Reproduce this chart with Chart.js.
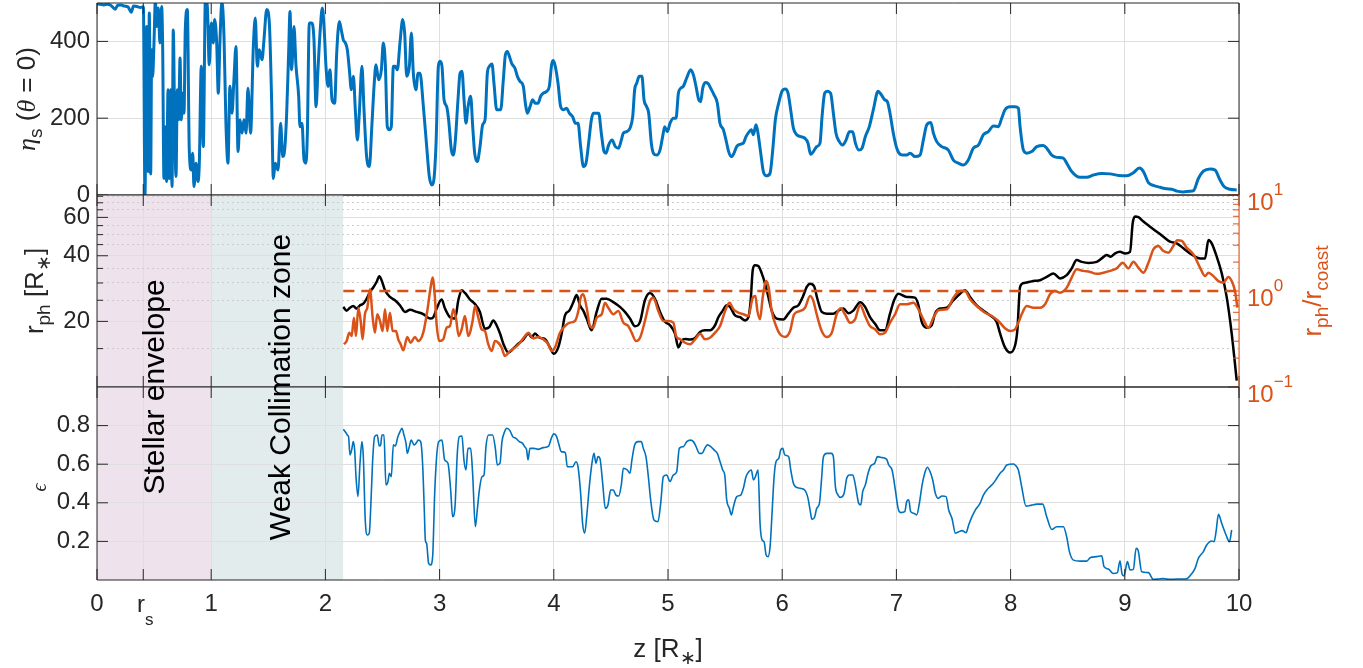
<!DOCTYPE html>
<html>
<head>
<meta charset="utf-8">
<script src="https://cdn.jsdelivr.net/npm/chart.js@4.4.1/dist/chart.umd.min.js"></script>
<style>
  html, body { margin: 0; padding: 0; background: #fff; }
  #wrap { position: relative; width: 1363px; height: 668px; }
  #wrap canvas { position: absolute; left: 0; top: 0; }
</style>
</head>
<body>
<div id="wrap">
  <canvas id="eta_chart" width="1363" height="668"></canvas>
  <canvas id="rph_chart" width="1363" height="668"></canvas>
  <canvas id="eps_chart" width="1363" height="668"></canvas>
</div>
<script>
// shock position r_s and the axis ticks
var RS = 0.405;
var X_TICKS = [0, RS, 1, 2, 3, 4, 5, 6, 7, 8, 9, 10];
var ETA_TICKS = [0, 200, 400];
var RPH_TICKS = [20, 40, 60];
var RPH_MINOR = [15, 25, 30, 35, 45, 50, 55, 65, 70, 75];
var RATIO_TICKS = [0.1, 1, 10];
var RATIO_MINOR = [0.2, 0.3, 0.4, 0.5, 0.6, 0.7, 0.8, 0.9, 2, 3, 4, 5, 6, 7, 8, 9];
var EPS_TICKS = [0.2, 0.4, 0.6, 0.8];

// shaded zones along z
var zones = [
  { name: 'Stellar envelope', from: 0, to: 1, textAt: 0.59, color: '#eee3ec' },
  { name: 'Weak Collimation zone', from: 1, to: 2.155, textAt: 1.69, color: '#e3ecec' }
];

// r_ph / r_coast = 1 reference level
var COAST_LEVEL = 1;
var COAST_FROM = 2.157;

// eta_s on the axis, [z, eta]
var etaS = [
  [0,498],[0.03,497],[0.06,495],[0.09,497],[0.12,494],[0.16,484],[0.18,494],[0.21,495],[0.24,492],[0.27,490],
  [0.30,476],[0.32,492],[0.35,491],[0.38,488],[0.406,490],[0.420,0],[0.435,439],[0.449,61],[0.458,474],[0.470,55],
  [0.479,378],[0.487,308],[0.499,396],[0.511,505],[0.522,439],[0.537,487],[0.551,396],[0.566,491],[0.575,387],[0.586,43],
  [0.598,178],[0.610,35],[0.622,274],[0.633,43],[0.645,274],[0.657,22],[0.668,430],[0.680,187],[0.692,48],[0.703,274],
  [0.715,196],[0.727,357],[0.738,196],[0.750,265],[0.762,213],[0.773,430],[0.791,483],[0.808,117],[0.826,65],[0.838,109],
  [0.849,22],[0.867,83],[0.884,35],[0.896,83],[0.913,335],[0.931,126],[0.949,510],[0.966,492],[0.983,339],[1.001,448],
  [1.019,396],[1.030,457],[1.048,396],[1.062,265],[1.077,404],[1.094,505],[1.112,413],[1.129,187],[1.147,83],[1.164,283],
  [1.182,213],[1.199,300],[1.217,387],[1.235,113],[1.252,196],[1.270,161],[1.287,196],[1.305,161],[1.322,278],[1.345,161],
  [1.369,387],[1.386,461],[1.404,335],[1.421,378],[1.445,352],[1.462,404],[1.486,483],[1.509,448],[1.529,248],[1.544,43],
  [1.561,83],[1.585,65],[1.608,187],[1.626,100],[1.643,117],[1.661,213],[1.678,370],[1.690,478],[1.704,326],[1.725,439],
  [1.742,339],[1.766,257],[1.777,178],[1.795,187],[1.813,91],[1.830,83],[1.842,161],[1.859,448],[1.880,448],[1.900,404],
  [1.918,230],[1.935,326],[1.953,422],[1.973,487],[1.991,422],[2.005,335],[2.023,283],[2.040,326],[2.058,248],[2.081,239],
  [2.099,370],[2.122,452],[2.139,430],[2.157,404],[2.175,396],[2.192,378],[2.210,326],[2.227,274],[2.245,309],[2.262,222],
  [2.280,143],[2.297,213],[2.320,335],[2.338,222],[2.361,100],[2.385,74],[2.408,187],[2.426,283],[2.443,339],[2.466,300],
  [2.490,326],[2.507,396],[2.525,339],[2.542,178],[2.560,170],[2.577,178],[2.595,335],[2.612,335],[2.630,326],[2.653,396],
  [2.677,457],[2.694,422],[2.712,309],[2.735,335],[2.753,422],[2.770,317],[2.793,274],[2.811,317],[2.828,317],[2.858,230],
  [2.887,126],[2.910,48],[2.933,26],[2.950,40],[2.969,135],[2.989,335],[3.004,348],[3.021,335],[3.039,248],[3.062,230],
  [3.079,196],[3.103,117],[3.120,104],[3.138,143],[3.161,248],[3.179,317],[3.196,322],[3.214,248],[3.231,187],[3.249,230],
  [3.272,257],[3.290,178],[3.307,109],[3.330,87],[3.354,126],[3.377,183],[3.398,196],[3.418,317],[3.436,335],[3.459,341],
  [3.476,291],[3.500,222],[3.535,222],[3.558,300],[3.576,365],[3.593,374],[3.611,361],[3.631,343],[3.660,330],[3.681,309],
  [3.704,296],[3.733,283],[3.751,239],[3.768,213],[3.792,230],[3.815,248],[3.838,239],[3.862,239],[3.885,257],[3.908,265],
  [3.938,270],[3.961,283],[3.981,339],[3.996,350],[4.013,335],[4.037,291],[4.060,230],[4.084,222],[4.113,226],[4.136,213],
  [4.165,204],[4.189,187],[4.212,187],[4.235,126],[4.259,74],[4.282,83],[4.305,135],[4.329,196],[4.346,213],[4.393,213],
  [4.416,161],[4.440,113],[4.457,109],[4.480,130],[4.510,143],[4.539,126],[4.568,122],[4.591,143],[4.609,161],[4.638,165],
  [4.667,174],[4.691,204],[4.708,274],[4.726,291],[4.749,309],[4.772,309],[4.790,248],[4.813,230],[4.831,213],[4.854,135],
  [4.872,109],[4.901,104],[4.930,117],[4.953,152],[4.971,178],[4.994,165],[5.018,187],[5.047,200],[5.070,200],[5.091,265],
  [5.111,278],[5.134,283],[5.163,304],[5.199,326],[5.222,313],[5.245,283],[5.269,248],[5.286,243],[5.304,278],[5.327,293],
  [5.350,291],[5.374,278],[5.403,261],[5.432,239],[5.455,187],[5.485,170],[5.508,143],[5.531,113],[5.555,100],[5.578,109],
  [5.601,126],[5.631,132],[5.660,135],[5.683,152],[5.712,165],[5.730,170],[5.747,157],[5.771,183],[5.788,161],[5.812,109],
  [5.835,61],[5.864,50],[5.893,56],[5.917,117],[5.940,196],[5.969,239],[5.998,270],[6.027,276],[6.051,265],[6.074,222],
  [6.098,174],[6.127,157],[6.162,152],[6.197,148],[6.226,135],[6.249,106],[6.273,113],[6.302,126],[6.331,135],[6.349,204],
  [6.372,265],[6.395,270],[6.424,265],[6.448,213],[6.471,161],[6.500,139],[6.530,130],[6.559,143],[6.588,165],[6.617,165],
  [6.641,135],[6.670,117],[6.699,122],[6.728,152],[6.763,178],[6.798,222],[6.839,270],[6.868,261],[6.897,248],[6.921,243],
  [6.944,213],[6.973,161],[7.003,122],[7.032,106],[7.061,104],[7.090,104],[7.120,109],[7.163,100],[7.207,104],[7.236,143],
  [7.266,183],[7.301,189],[7.324,161],[7.353,139],[7.397,126],[7.455,117],[7.499,91],[7.543,83],[7.587,78],[7.630,91],
  [7.674,122],[7.718,130],[7.762,157],[7.805,165],[7.849,180],[7.893,178],[7.922,200],[7.951,222],[7.995,230],[8.039,230],
  [8.068,226],[8.083,178],[8.112,117],[8.141,109],[8.185,113],[8.229,126],[8.287,129],[8.316,122],[8.360,104],[8.404,98],
  [8.462,96],[8.491,83],[8.535,61],[8.608,46],[8.667,46],[8.725,52],[8.798,56],[8.871,55],[8.944,51],[9.017,50],
  [9.075,58],[9.128,70],[9.163,61],[9.207,32],[9.250,25],[9.309,20],[9.367,16],[9.411,15],[9.455,10],[9.513,8],
  [9.571,10],[9.601,11],[9.644,43],[9.688,62],[9.747,68],[9.790,65],[9.834,39],[9.869,22],[9.922,15],[9.980,13]
];

// photospheric radius r_ph in R_*, [z, r_ph]
var rPh = [
  [2.157,23.3],[2.186,22.4],[2.215,23.1],[2.244,23.5],[2.274,22.9],[2.303,23.7],[2.332,24.1],[2.361,25.4],[2.390,27.3],[2.419,28.6],
  [2.449,30.4],[2.472,32.2],[2.492,30.9],[2.522,27.8],[2.565,25.9],[2.609,25.0],[2.653,23.7],[2.697,22.1],[2.741,22.6],[2.799,22.1],
  [2.857,21.6],[2.916,20.6],[2.945,20.9],[2.974,22.9],[3.018,25.2],[3.047,22.9],[3.091,20.9],[3.135,20.6],[3.164,25.0],[3.193,27.8],
  [3.222,27.0],[3.266,25.2],[3.310,24.0],[3.353,22.1],[3.397,18.5],[3.435,18.8],[3.470,20.2],[3.499,19.2],[3.529,17.6],[3.558,15.8],
  [3.602,14.4],[3.645,15.0],[3.689,15.8],[3.733,16.5],[3.777,17.6],[3.806,16.9],[3.835,17.6],[3.879,16.8],[3.923,16.6],[3.966,15.2],
  [4.001,14.2],[4.039,15.2],[4.069,17.6],[4.098,21.3],[4.136,22.4],[4.171,24.5],[4.200,26.4],[4.229,23.7],[4.258,22.4],[4.288,20.6],
  [4.331,18.2],[4.375,22.1],[4.419,25.4],[4.463,25.4],[4.521,24.5],[4.579,23.3],[4.623,22.1],[4.667,20.6],[4.711,19.0],[4.755,19.9],
  [4.798,25.0],[4.842,27.0],[4.886,25.4],[4.930,22.1],[4.974,19.9],[5.017,19.2],[5.061,17.6],[5.091,15.2],[5.120,16.3],[5.149,16.6],
  [5.193,16.5],[5.237,16.8],[5.281,17.9],[5.324,18.2],[5.368,18.2],[5.412,19.2],[5.441,20.9],[5.479,22.4],[5.514,23.7],[5.543,23.3],
  [5.587,21.3],[5.631,20.9],[5.675,20.2],[5.704,20.9],[5.724,25.0],[5.742,34.4],[5.762,36.2],[5.791,35.9],[5.821,33.2],[5.850,29.8],
  [5.879,25.9],[5.908,22.4],[5.952,20.6],[6.010,20.4],[6.054,21.7],[6.098,23.1],[6.142,23.7],[6.180,25.9],[6.215,28.8],[6.244,29.8],
  [6.279,29.0],[6.308,25.4],[6.346,22.1],[6.390,21.7],[6.448,21.7],[6.492,22.4],[6.536,22.9],[6.580,21.8],[6.623,22.4],[6.682,24.5],
  [6.726,23.3],[6.769,20.9],[6.813,19.5],[6.857,18.2],[6.901,18.2],[6.944,21.7],[6.980,25.0],[7.017,26.8],[7.090,25.9],[7.163,25.7],
  [7.193,23.7],[7.222,19.9],[7.266,18.7],[7.309,19.2],[7.338,21.7],[7.382,22.9],[7.441,23.1],[7.499,25.0],[7.557,26.8],[7.601,27.8],
  [7.645,25.9],[7.703,23.7],[7.762,22.4],[7.820,21.3],[7.878,19.9],[7.908,17.6],[7.951,15.2],[7.995,14.4],[8.039,15.5],[8.059,18.2],
  [8.083,28.8],[8.118,30.0],[8.170,30.4],[8.214,30.7],[8.258,30.9],[8.316,32.0],[8.375,33.2],[8.433,31.5],[8.491,32.6],[8.535,35.0],
  [8.579,38.2],[8.623,37.5],[8.681,37.1],[8.754,37.5],[8.798,38.9],[8.842,40.3],[8.877,39.6],[8.915,41.0],[8.958,41.7],[9.002,41.0],
  [9.046,41.7],[9.069,56.4],[9.090,60.5],[9.119,60.1],[9.163,57.4],[9.221,54.4],[9.280,51.6],[9.338,48.9],[9.396,46.4],[9.455,45.6],
  [9.513,43.3],[9.571,41.0],[9.615,39.6],[9.659,38.9],[9.703,38.9],[9.732,47.3],[9.761,45.6],[9.805,39.6],[9.849,33.2],[9.892,25.9],
  [9.936,17.6],[9.980,10.7]
];

// r_ph / r_coast, [z, ratio]
var rRatio = [
  [2.163,0.279],[2.186,0.301],[2.209,0.368],[2.230,0.340],[2.250,0.527],[2.268,0.340],[2.288,0.670],[2.309,0.487],[2.326,0.314],[2.346,0.572],
  [2.367,0.670],[2.390,1.04],[2.414,0.527],[2.434,0.368],[2.454,0.572],[2.478,0.487],[2.501,0.383],[2.522,0.645],[2.542,0.383],[2.565,0.594],
  [2.589,0.383],[2.618,0.383],[2.638,0.314],[2.659,0.279],[2.682,0.241],[2.717,0.332],[2.746,0.289],[2.784,0.332],[2.813,0.301],[2.857,0.368],
  [2.892,0.619],[2.921,1.08],[2.939,1.38],[2.957,0.924],[2.974,0.450],[2.997,0.301],[3.032,0.314],[3.062,0.415],[3.091,0.432],[3.120,0.645],
  [3.143,0.527],[3.167,0.340],[3.193,0.399],[3.222,0.549],[3.251,0.340],[3.289,0.487],[3.310,0.698],[3.339,0.527],[3.368,0.399],[3.397,0.383],
  [3.426,0.279],[3.456,0.237],[3.485,0.301],[3.514,0.289],[3.543,0.257],[3.572,0.210],[3.616,0.237],[3.660,0.257],[3.704,0.289],[3.748,0.340],
  [3.777,0.368],[3.821,0.321],[3.864,0.332],[3.908,0.314],[3.952,0.279],[3.981,0.237],[4.010,0.257],[4.054,0.368],[4.098,0.432],[4.142,0.468],
  [4.185,0.487],[4.215,0.619],[4.235,0.852],[4.258,0.924],[4.288,0.670],[4.317,0.432],[4.346,0.415],[4.375,0.527],[4.419,0.572],[4.448,0.755],
  [4.477,0.670],[4.521,0.572],[4.565,0.619],[4.609,0.468],[4.652,0.432],[4.682,0.368],[4.720,0.301],[4.755,0.326],[4.798,0.487],[4.842,0.787],
  [4.871,0.852],[4.915,0.619],[4.959,0.487],[5.003,0.487],[5.047,0.468],[5.071,0.340],[5.106,0.314],[5.149,0.289],[5.193,0.279],[5.237,0.314],
  [5.281,0.359],[5.324,0.314],[5.368,0.326],[5.412,0.368],[5.456,0.432],[5.500,0.619],[5.538,0.755],[5.573,0.645],[5.616,0.594],[5.660,0.572],
  [5.704,0.549],[5.742,0.852],[5.765,0.887],[5.783,0.619],[5.806,0.507],[5.829,0.852],[5.859,1.27],[5.882,1.08],[5.908,0.619],[5.946,0.432],
  [5.981,0.354],[6.025,0.332],[6.069,0.383],[6.104,0.572],[6.156,0.619],[6.200,0.670],[6.244,0.887],[6.273,0.787],[6.302,0.572],[6.346,0.383],
  [6.390,0.332],[6.434,0.368],[6.477,0.572],[6.512,0.661],[6.550,0.572],[6.594,0.468],[6.638,0.507],[6.682,0.715],[6.726,0.549],[6.769,0.432],
  [6.813,0.399],[6.857,0.354],[6.901,0.368],[6.944,0.468],[6.988,0.572],[7.032,0.727],[7.090,0.727],[7.149,0.755],[7.193,0.645],[7.236,0.507],
  [7.280,0.415],[7.324,0.527],[7.368,0.630],[7.441,0.645],[7.499,0.852],[7.557,1.0],[7.601,1.0],[7.645,0.820],[7.703,0.698],[7.776,0.594],
  [7.835,0.549],[7.893,0.487],[7.951,0.409],[7.995,0.383],[8.039,0.399],[8.068,0.468],[8.097,0.572],[8.141,0.698],[8.200,0.670],[8.258,0.670],
  [8.302,0.727],[8.345,0.924],[8.389,1.0],[8.433,0.960],[8.491,1.08],[8.535,1.38],[8.579,1.68],[8.637,1.62],[8.696,1.58],[8.754,1.51],
  [8.813,1.55],[8.871,1.62],[8.929,1.72],[8.982,1.97],[9.031,1.72],[9.075,2.02],[9.119,1.75],[9.163,1.55],[9.207,1.97],[9.250,2.72],
  [9.294,2.94],[9.338,2.61],[9.382,2.51],[9.425,2.94],[9.460,3.37],[9.499,3.32],[9.542,2.83],[9.601,2.41],[9.659,1.75],[9.703,1.43],
  [9.732,1.55],[9.776,1.43],[9.819,1.27],[9.863,1.22],[9.907,1.40],[9.936,1.27],[9.965,1.0],[9.986,0.670]
];

// epsilon, [z, eps]
var epsS = [
  [2.157,0.781],[2.180,0.763],[2.192,0.751],[2.203,0.743],[2.215,0.648],[2.230,0.674],[2.244,0.717],[2.256,0.674],[2.268,0.535],[2.285,0.432],
  [2.303,0.605],[2.320,0.717],[2.332,0.639],[2.349,0.311],[2.367,0.233],[2.384,0.242],[2.402,0.449],[2.414,0.622],[2.431,0.743],[2.454,0.751],
  [2.472,0.694],[2.484,0.700],[2.495,0.751],[2.513,0.751],[2.530,0.492],[2.548,0.510],[2.560,0.553],[2.577,0.535],[2.595,0.700],[2.612,0.694],
  [2.635,0.743],[2.653,0.768],[2.670,0.786],[2.688,0.751],[2.706,0.708],[2.717,0.656],[2.735,0.691],[2.752,0.725],[2.776,0.700],[2.793,0.708],
  [2.814,0.725],[2.834,0.717],[2.851,0.605],[2.866,0.363],[2.875,0.207],[2.886,0.190],[2.904,0.086],[2.921,0.078],[2.939,0.121],[2.957,0.449],
  [2.974,0.639],[2.992,0.717],[3.021,0.725],[3.044,0.622],[3.073,0.605],[3.097,0.466],[3.114,0.328],[3.135,0.380],[3.155,0.656],[3.173,0.743],
  [3.196,0.746],[3.213,0.622],[3.231,0.570],[3.248,0.682],[3.272,0.682],[3.289,0.553],[3.313,0.276],[3.330,0.363],[3.348,0.466],[3.371,0.535],
  [3.389,0.544],[3.406,0.691],[3.429,0.751],[3.464,0.751],[3.488,0.682],[3.505,0.596],[3.529,0.605],[3.546,0.717],[3.569,0.768],[3.587,0.786],
  [3.616,0.774],[3.640,0.743],[3.669,0.734],[3.698,0.717],[3.727,0.708],[3.745,0.691],[3.762,0.674],[3.774,0.622],[3.791,0.682],[3.826,0.682],
  [3.861,0.677],[3.908,0.686],[3.955,0.694],[3.978,0.734],[4.001,0.757],[4.025,0.743],[4.042,0.708],[4.066,0.665],[4.101,0.660],[4.118,0.587],
  [4.165,0.587],[4.194,0.613],[4.212,0.587],[4.235,0.449],[4.252,0.294],[4.270,0.242],[4.288,0.328],[4.311,0.484],[4.334,0.605],[4.352,0.656],
  [4.369,0.605],[4.387,0.639],[4.404,0.630],[4.428,0.501],[4.451,0.371],[4.474,0.389],[4.498,0.466],[4.521,0.466],[4.544,0.440],[4.568,0.435],
  [4.591,0.492],[4.609,0.579],[4.644,0.570],[4.667,0.553],[4.684,0.622],[4.708,0.700],[4.737,0.717],[4.766,0.717],[4.784,0.682],[4.807,0.639],
  [4.828,0.535],[4.848,0.415],[4.877,0.311],[4.912,0.302],[4.936,0.397],[4.959,0.535],[4.988,0.544],[5.017,0.510],[5.046,0.544],[5.076,0.561],
  [5.099,0.682],[5.135,0.691],[5.164,0.717],[5.199,0.725],[5.222,0.717],[5.246,0.691],[5.275,0.656],[5.298,0.656],[5.322,0.682],[5.345,0.700],
  [5.374,0.691],[5.403,0.674],[5.432,0.656],[5.456,0.613],[5.479,0.570],[5.497,0.544],[5.514,0.415],[5.538,0.371],[5.555,0.337],[5.573,0.380],
  [5.602,0.432],[5.637,0.440],[5.660,0.475],[5.683,0.535],[5.707,0.561],[5.730,0.570],[5.748,0.518],[5.765,0.535],[5.789,0.570],[5.806,0.294],
  [5.824,0.207],[5.841,0.199],[5.859,0.130],[5.876,0.121],[5.894,0.173],[5.911,0.345],[5.929,0.535],[5.946,0.613],[5.970,0.630],[5.987,0.674],
  [6.005,0.682],[6.022,0.648],[6.057,0.639],[6.075,0.570],[6.098,0.501],[6.115,0.484],[6.156,0.475],[6.197,0.466],[6.226,0.423],[6.244,0.363],
  [6.261,0.314],[6.285,0.328],[6.302,0.371],[6.326,0.397],[6.343,0.510],[6.361,0.639],[6.390,0.656],[6.431,0.656],[6.448,0.639],[6.466,0.484],
  [6.489,0.440],[6.512,0.428],[6.542,0.449],[6.565,0.527],[6.588,0.544],[6.618,0.544],[6.635,0.510],[6.653,0.449],[6.670,0.397],[6.688,0.389],
  [6.705,0.458],[6.728,0.492],[6.752,0.553],[6.775,0.591],[6.810,0.605],[6.834,0.639],[6.874,0.634],[6.915,0.625],[6.933,0.596],[6.962,0.570],
  [6.991,0.466],[7.015,0.371],[7.038,0.349],[7.073,0.354],[7.090,0.406],[7.108,0.415],[7.125,0.354],[7.155,0.345],[7.178,0.337],[7.201,0.397],
  [7.225,0.492],[7.248,0.553],[7.271,0.584],[7.295,0.561],[7.318,0.518],[7.341,0.449],[7.365,0.423],[7.400,0.435],[7.435,0.432],[7.458,0.363],
  [7.487,0.319],[7.517,0.242],[7.546,0.250],[7.575,0.256],[7.610,0.245],[7.633,0.285],[7.662,0.328],[7.692,0.363],[7.732,0.397],[7.762,0.440],
  [7.791,0.466],[7.820,0.484],[7.849,0.501],[7.879,0.527],[7.908,0.553],[7.937,0.570],[7.966,0.596],[8.024,0.601],[8.039,0.596],[8.068,0.570],
  [8.097,0.483],[8.135,0.383],[8.185,0.388],[8.229,0.393],[8.281,0.393],[8.316,0.328],[8.360,0.262],[8.404,0.276],[8.462,0.276],[8.491,0.224],
  [8.515,0.147],[8.550,0.103],[8.608,0.098],[8.667,0.098],[8.696,0.115],[8.754,0.121],[8.798,0.126],[8.818,0.069],[8.856,0.057],[8.900,0.034],
  [8.935,0.038],[8.958,0.100],[8.976,0.031],[8.993,0.021],[9.023,0.095],[9.046,0.052],[9.075,0.055],[9.099,0.164],[9.116,0.155],[9.148,0.043],
  [9.207,0.038],[9.250,0.003],[9.294,0.005],[9.338,0.008],[9.396,0.003],[9.455,0.005],[9.513,0.005],[9.548,0.008],[9.577,0.026],[9.615,0.060],
  [9.644,0.112],[9.688,0.147],[9.717,0.181],[9.761,0.202],[9.782,0.198],[9.799,0.250],[9.820,0.340],[9.849,0.293],[9.887,0.233],[9.916,0.198],
  [9.936,0.259]
];

var INK = '#262626';
var GRID = '#dfdfdf';
var MINOR = '#cdcdcd';
var BLUE = '#0072BD';
var ORANGE = '#D95319';
var SANS = '"Liberation Sans", Arial, Helvetica, sans-serif';
var SERIF = '"Liberation Serif", "DejaVu Serif", serif';
var TICK_FONT = { family: SANS, size: 24 };

function pts(series) {
  return series.map(function (p) { return { x: p[0], y: p[1] }; });
}

function seg(ctx, x0, y0, x1, y1) {
  ctx.beginPath();
  ctx.moveTo(x0, y0);
  ctx.lineTo(x1, y1);
  ctx.stroke();
}

// text made of runs (sub/superscripts), centred on (x, y); vertical = reads bottom to top
function rich(ctx, runs, x, y, vertical) {
  ctx.save();
  ctx.translate(x, y);
  if (vertical) ctx.rotate(-Math.PI / 2);
  ctx.textAlign = 'left';
  ctx.textBaseline = 'alphabetic';
  var total = 0;
  runs.forEach(function (r) { ctx.font = r.font; r.w = ctx.measureText(r.text).width; total += r.w; });
  var cx = -total / 2;
  runs.forEach(function (r) {
    ctx.font = r.font;
    ctx.fillStyle = r.color || INK;
    ctx.fillText(r.text, cx, r.dy || 0);
    cx += r.w;
  });
  ctx.restore();
}

function fixTicks(values) {
  return function (scale) { scale.ticks = values.map(function (v) { return { value: v }; }); };
}

function xAxis(withLabels) {
  return {
    type: 'linear', min: 0, max: 10,
    afterBuildTicks: fixTicks(X_TICKS),
    ticks: {
      display: withLabels, padding: 10, autoSkip: false, maxRotation: 0, color: INK, font: TICK_FONT,
      callback: function (v) { return v === RS ? '' : String(v); }
    },
    grid: { color: GRID, drawTicks: false },
    border: { display: false },
    afterFit: function (s) { s.height = withLabels ? 40 : 0; s.paddingLeft = 0; s.paddingRight = 0; }
  };
}

function leftAxis(opts) {
  var cfg = {
    type: opts.type || 'linear', position: 'left', min: opts.min, max: opts.max,
    afterBuildTicks: fixTicks(opts.ticks),
    ticks: { padding: 7, color: INK, font: TICK_FONT, callback: opts.label },
    grid: { color: GRID, drawTicks: false },
    border: { display: false },
    afterFit: function (s) { s.width = 97; s.paddingTop = 0; s.paddingBottom = 0; }
  };
  return cfg;
}

// frame, inward tick marks, shaded zones and any extra text of one panel
function panel(cfg) {
  return {
    id: 'panel',
    beforeDraw: function (chart) {
      if (!cfg.zones) return;
      var a = chart.chartArea, x = chart.scales.x, ctx = chart.ctx;
      ctx.save();
      cfg.zones.forEach(function (zn) {
        var x0 = x.getPixelForValue(zn.from), x1 = x.getPixelForValue(zn.to);
        ctx.fillStyle = zn.color;
        ctx.fillRect(x0, a.top, x1 - x0, a.bottom - a.top);
      });
      ctx.restore();
    },
    afterDraw: function (chart) {
      var a = chart.chartArea, s = chart.scales, ctx = chart.ctx;
      ctx.save();
      ctx.lineWidth = 1;
      ctx.strokeStyle = INK;
      X_TICKS.forEach(function (v) {
        var px = s.x.getPixelForValue(v);
        seg(ctx, px, a.bottom, px, a.bottom - 11);
        seg(ctx, px, a.top, px, a.top + 11);
      });
      (cfg.marks || []).forEach(function (m) {
        var sc = s[m.axis];
        ctx.strokeStyle = m.color || INK;
        m.values.forEach(function (v) {
          var py = sc.getPixelForValue(v);
          if (m.side === 'left') seg(ctx, a.left, py, a.left + m.len, py);
          else seg(ctx, a.right, py, a.right - m.len, py);
        });
      });
      ctx.strokeStyle = INK;
      seg(ctx, a.left, a.top, a.right, a.top);
      seg(ctx, a.left, a.bottom, a.right, a.bottom);
      seg(ctx, a.left, a.top, a.left, a.bottom);
      ctx.strokeStyle = cfg.rightColor || INK;
      seg(ctx, a.right, a.top, a.right, a.bottom);
      ctx.restore();
      if (cfg.text) cfg.text(chart, ctx, a, s);
    }
  };
}

var base = {
  responsive: false, animation: false, devicePixelRatio: 1, events: [],
  plugins: { legend: { display: false }, tooltip: { enabled: false } }
};

function opts(extra) { return Object.assign({}, base, extra); }

// curves are drawn smooth through the sampled points
var SMOOTH = { pointRadius: 0, cubicInterpolationMode: 'monotone' };
function line(extra) { return Object.assign({}, SMOOTH, extra); }

var T = 26, SUB = 19;
function sans(sz) { return sz + 'px ' + SANS; }
function ital(sz) { return 'italic ' + sz + 'px ' + SERIF; }

// eta_s panel
new Chart(document.getElementById('eta_chart'), {
  type: 'line',
  data: { datasets: [line({ data: pts(etaS), borderColor: BLUE, borderWidth: 3, clip: 0 })] },
  options: opts({
    layout: { padding: { left: 0, top: 3, right: 124, bottom: 473 } },
    scales: {
      x: xAxis(false),
      y: leftAxis({ min: 0, max: 500, ticks: ETA_TICKS, label: function (v) { return String(v); } })
    }
  }),
  plugins: [panel({
    marks: [
      { axis: 'y', side: 'left', len: 11, values: ETA_TICKS },
      { axis: 'y', side: 'right', len: 11, values: ETA_TICKS }
    ],
    text: function (chart, ctx, a) {
      rich(ctx, [
        { text: '\u03B7', font: ital(T) },
        { text: 's', font: sans(SUB), dy: 7 },
        { text: ' (', font: sans(T) },
        { text: '\u03B8', font: ital(T) },
        { text: ' = 0)', font: sans(T) }
      ], 35, (a.top + a.bottom) / 2, true);
    }
  })]
});

// r_ph panel with r_ph / r_coast on the right
new Chart(document.getElementById('rph_chart'), {
  type: 'line',
  data: {
    datasets: [
      line({ data: pts(rPh), yAxisID: 'y', borderColor: '#000000', borderWidth: 2.5, order: 2 }),
      line({ data: pts(rRatio), yAxisID: 'y2', borderColor: ORANGE, borderWidth: 2.5, order: 1 }),
      { data: [{ x: COAST_FROM, y: COAST_LEVEL }, { x: 10, y: COAST_LEVEL }], yAxisID: 'y2', borderColor: ORANGE,
        borderWidth: 2.5, borderDash: [11, 7], pointRadius: 0, order: 0 }
    ]
  },
  options: opts({
    layout: { padding: { left: 0, top: 195, right: 0, bottom: 281 } },
    scales: {
      x: xAxis(false),
      y: leftAxis({ type: 'logarithmic', min: 10, max: 76, ticks: RPH_TICKS, label: function (v) { return String(v); } }),
      yMinor: {
        type: 'logarithmic', position: 'left', min: 10, max: 76,
        afterBuildTicks: fixTicks(RPH_MINOR),
        ticks: { display: false },
        grid: { color: MINOR, drawTicks: false },
        border: { display: false, dash: [2, 3] },
        afterFit: function (s) { s.width = 0; s.paddingTop = 0; s.paddingBottom = 0; }
      },
      y2: {
        type: 'logarithmic', position: 'right', min: 0.1, max: 10,
        afterBuildTicks: fixTicks(RATIO_TICKS),
        ticks: { display: false },
        grid: { display: false },
        border: { display: false },
        afterFit: function (s) { s.width = 124; s.paddingTop = 0; s.paddingBottom = 0; }
      }
    }
  }),
  plugins: [panel({
    zones: zones,
    rightColor: ORANGE,
    marks: [
      { axis: 'y', side: 'left', len: 11, values: RPH_TICKS },
      { axis: 'y', side: 'left', len: 6, values: RPH_MINOR },
      { axis: 'y2', side: 'right', len: 11, values: RATIO_TICKS, color: ORANGE },
      { axis: 'y2', side: 'right', len: 6, values: RATIO_MINOR, color: ORANGE }
    ],
    text: function (chart, ctx, a, s) {
      RATIO_TICKS.forEach(function (v) {
        var py = s.y2.getPixelForValue(v);
        var e = String(Math.round(Math.log10(v))).replace('-', '\u2212');
        ctx.save();
        ctx.fillStyle = ORANGE;
        ctx.textAlign = 'left';
        ctx.textBaseline = 'alphabetic';
        ctx.font = sans(24);
        ctx.fillText('10', a.right + 8, py + 15);
        var w = ctx.measureText('10').width;
        ctx.font = sans(17);
        ctx.fillText(e, a.right + 8 + w, py);
        ctx.restore();
      });
      var mid = (a.top + a.bottom) / 2;
      rich(ctx, [
        { text: 'r', font: sans(T) },
        { text: 'ph', font: sans(SUB), dy: 7 },
        { text: ' [R', font: sans(T) },
        { text: '\u2217', font: sans(SUB), dy: 7 },
        { text: ']', font: sans(T) }
      ], 43, mid, true);
      rich(ctx, [
        { text: 'r', font: sans(T), color: ORANGE },
        { text: 'ph', font: sans(SUB), dy: 7, color: ORANGE },
        { text: '/r', font: sans(T), color: ORANGE },
        { text: 'coast', font: sans(SUB), dy: 7, color: ORANGE }
      ], 1321, mid, true);
    }
  })]
});

// epsilon panel, carries the z axis
new Chart(document.getElementById('eps_chart'), {
  type: 'line',
  data: { datasets: [line({ data: pts(epsS), borderColor: BLUE, borderWidth: 1.6 })] },
  options: opts({
    layout: { padding: { left: 0, top: 387, right: 124, bottom: 48 } },
    scales: {
      x: xAxis(true),
      y: leftAxis({ min: 0, max: 1, ticks: EPS_TICKS, label: function (v) { return v.toFixed(1); } })
    }
  }),
  plugins: [panel({
    zones: zones,
    marks: [
      { axis: 'y', side: 'left', len: 11, values: EPS_TICKS },
      { axis: 'y', side: 'right', len: 11, values: EPS_TICKS }
    ],
    text: function (chart, ctx, a, s) {
      // zone names straddle the r_ph and epsilon panels
      zones.forEach(function (zn) {
        ctx.save();
        ctx.translate(s.x.getPixelForValue(zn.textAt), a.top);
        ctx.rotate(-Math.PI / 2);
        ctx.font = sans(30);
        ctx.fillStyle = '#000000';
        ctx.textAlign = 'center';
        ctx.textBaseline = 'alphabetic';
        ctx.fillText(zn.name, 0, 0);
        ctx.restore();
      });
      // r_s tick label
      var px = s.x.getPixelForValue(RS);
      rich(ctx, [
        { text: 'r', font: sans(24) },
        { text: 's', font: sans(17), dy: 13 }
      ], px + 2, 612, false);
      rich(ctx, [{ text: '\u03F5', font: ital(20) }], 46, (a.top + a.bottom) / 2 + 4, true);
      rich(ctx, [
        { text: 'z [R', font: sans(T) },
        { text: '\u2217', font: sans(SUB), dy: 7 },
        { text: ']', font: sans(T) }
      ], (a.left + a.right) / 2, 657, false);
    }
  })]
});
</script>
</body>
</html>
